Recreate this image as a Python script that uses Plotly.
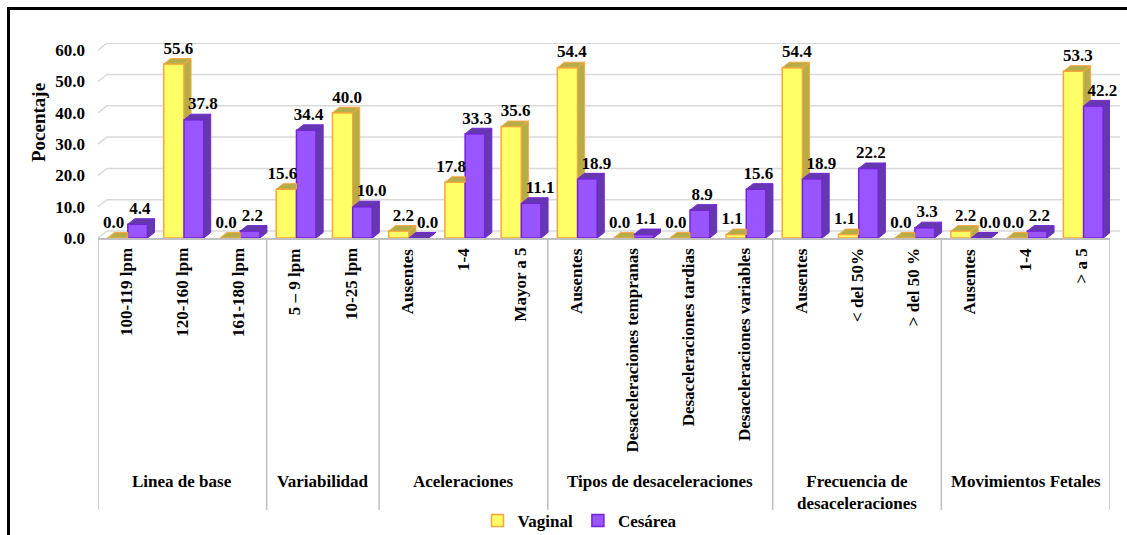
import plotly.graph_objects as go

# ---------------- data ----------------
groups = ["Linea de base", "Variabilidad", "Aceleraciones", "Tipos de desaceleraciones",
          "Frecuencia de<br>desaceleraciones", "Movimientos Fetales"]
group_sizes = [3, 2, 3, 4, 3, 3]
subcategories = ["100-119 lpm", "120-160 lpm", "161-180 lpm",
                 "5 – 9 lpm", "10-25 lpm",
                 "Ausentes", "1-4", "Mayor a 5",
                 "Ausentes", "Desaceleraciones tempranas", "Desaceleraciones tardias",
                 "Desaceleraciones variables",
                 "Ausentes", "< del 50%", "> del 50 %",
                 "Ausentes", "1-4", "> a 5"]
vaginal = [0.0, 55.6, 0.0, 15.6, 40.0, 2.2, 17.8, 35.6, 54.4, 0.0, 0.0, 1.1, 54.4, 1.1, 0.0, 2.2, 0.0, 53.3]
cesarea = [4.4, 37.8, 2.2, 34.4, 10.0, 0.0, 33.3, 11.1, 18.9, 1.1, 8.9, 15.6, 18.9, 22.2, 3.3, 0.0, 2.2, 42.2]
y_ticks = [0, 10, 20, 30, 40, 50, 60]
series_names = ["Vaginal", "Cesárea"]

# ---------------- style / layout constants ----------------
W, H = 1127, 535
ML, MR, MT, MB = 98, 17, 43, 297
PW, PH = W - ML - MR, H - MT - MB
YMAX = 62.3
FONT = "Liberation Serif, Times New Roman, serif"
FS = 17

V_OFF, V_W = -0.33, 0.36
C_OFF, C_W = 0.03, 0.35
DX, DY = 0.125, 1.76  # 3D depth in axis units

V_FRONT, V_EDGE, V_SIDE = "#FFFF66", "#FFA53C", "#B5AE48"
C_FRONT, C_EDGE, C_SIDE = "#9955FF", "#7424D8", "#6539AE"


def px(p):
    return (p - ML) / PW


def py(p):
    return (MT + PH - p) / PH


def bold(size=FS):
    return dict(family=FONT, size=size, color="black", weight="bold")


xs = list(range(len(subcategories)))


def poly_trace(polys, fill, edge):
    X, Y = [], []
    for poly in polys:
        for (a, b) in poly + [poly[0]]:
            X.append(a)
            Y.append(b)
        X.append(None)
        Y.append(None)
    return go.Scatter(x=X, y=Y, mode="lines", fill="toself", fillcolor=fill,
                      line=dict(color=edge, width=1), hoverinfo="skip",
                      showlegend=False, cliponaxis=False)


v_polys, c_polys = [], []
for i, (v, c) in enumerate(zip(vaginal, cesarea)):
    x0, x1 = i + V_OFF, i + V_OFF + V_W
    if c > v:
        v_polys.append([(x0, v), (x0 + DX, v + DY), (x1, v + DY), (x1, v)])
    else:
        v_polys.append([(x0, v), (x0 + DX, v + DY), (x1 + DX, v + DY), (x1, v)])
        v_polys.append([(x1, c), (x1 + DX, c + DY), (x1 + DX, v + DY), (x1, v)])
    c0, c1 = i + C_OFF, i + C_OFF + C_W
    c_polys.append([(c0, c), (c0 + DX, c + DY), (c1 + DX, c + DY), (c1, c)])
    c_polys.append([(c1, 0), (c1 + DX, DY), (c1 + DX, c + DY), (c1, c)])

fig = go.Figure()
fig.add_trace(go.Bar(x=xs, y=vaginal, offset=V_OFF, width=V_W, name=series_names[0],
                     marker=dict(color=V_FRONT, line=dict(color=V_EDGE, width=1.5)),
                     hoverinfo="skip"))
fig.add_trace(go.Bar(x=xs, y=cesarea, offset=C_OFF, width=C_W, name=series_names[1],
                     marker=dict(color=C_FRONT, line=dict(color=C_EDGE, width=1.5)),
                     hoverinfo="skip"))
fig.add_trace(poly_trace(v_polys, V_SIDE, V_EDGE))
fig.add_trace(poly_trace(c_polys, C_SIDE, C_EDGE))

# data labels: nudged sideways like Excel does when the neighbouring bar is taller
v_lab_x = [i + V_OFF + V_W / 2 + (0.08 if v >= c else -0.07) for i, v, c in zip(xs, vaginal, cesarea)]
c_lab_x = [i + C_OFF + C_W / 2 + (0.16 if v > c else 0.04) for i, v, c in zip(xs, vaginal, cesarea)]
for vals, lx in [(vaginal, v_lab_x), (cesarea, c_lab_x)]:
    fig.add_trace(go.Scatter(
        x=lx, y=vals,
        text=[f"{v:.1f}" for v in vals], mode="markers+text", textposition="top center",
        marker=dict(size=8, opacity=0), textfont=bold(),
        hoverinfo="skip", showlegend=False, cliponaxis=False))

shapes = []
# back-wall gridlines with side-wall diagonal
for t in y_ticks:
    shapes.append(dict(type="path", xref="paper", xsizemode="pixel", xanchor=0,
                       yref="y", ysizemode="pixel", yanchor=t,
                       path=f"M0,0 L9,7 L{PW + 10},7", layer="below",
                       line=dict(color="#D9D9D9", width=1.5)))
# category box dividers
b = -0.5
bounds = [b]
for s in group_sizes:
    b += s
    bounds.append(b)
for bd in bounds:
    shapes.append(dict(type="line", xref="x", yref="paper", x0=bd, x1=bd, y0=0, y1=py(510),
                       line=dict(color="#BFBFBF", width=1.5)))
# outer frame
shapes.append(dict(type="rect", xref="paper", yref="paper", x0=px(8.5), x1=px(1140),
                   y0=py(8.5), y1=py(550), line=dict(color="black", width=3)))

annotations = []
for i, lab in enumerate(subcategories):
    annotations.append(dict(x=i, xref="x", y=py(246), yref="paper", text=lab, textangle=-90,
                            xanchor="center", yanchor="top", showarrow=False, font=bold()))
for gname, lo, hi in zip(groups, bounds[:-1], bounds[1:]):
    annotations.append(dict(x=(lo + hi) / 2, xref="x", y=py(470), yref="paper", text=gname,
                            xanchor="center", yanchor="top", showarrow=False, font=bold()))
annotations.append(dict(x=px(38), xref="paper", y=py(123), yref="paper", text="Pocentaje",
                        textangle=-90, showarrow=False, xanchor="center", yanchor="middle",
                        font=bold(19)))

fig.update_layout(
    width=W, height=H, margin=dict(l=ML, r=MR, t=MT, b=MB, autoexpand=False),
    paper_bgcolor="white", plot_bgcolor="white", barmode="overlay",
    font=bold(),
    xaxis=dict(range=[-0.5, 17.5], showticklabels=False, showgrid=False, zeroline=False,
               showline=True, linecolor="#BFBFBF", linewidth=1.5, fixedrange=True,
               automargin=False),
    yaxis=dict(range=[0, YMAX], tickvals=y_ticks, tickformat=".1f", showgrid=False,
               zeroline=False, showline=False, ticklabelstandoff=12, tickfont=bold(),
               automargin=False),
    legend=dict(orientation="h", x=px(580), xanchor="center", y=py(521), yanchor="middle",
                font=bold(), bgcolor="rgba(0,0,0,0)", traceorder="normal", itemwidth=30),
    shapes=shapes, annotations=annotations, showlegend=True,
)

fig.write_html("out.html")
